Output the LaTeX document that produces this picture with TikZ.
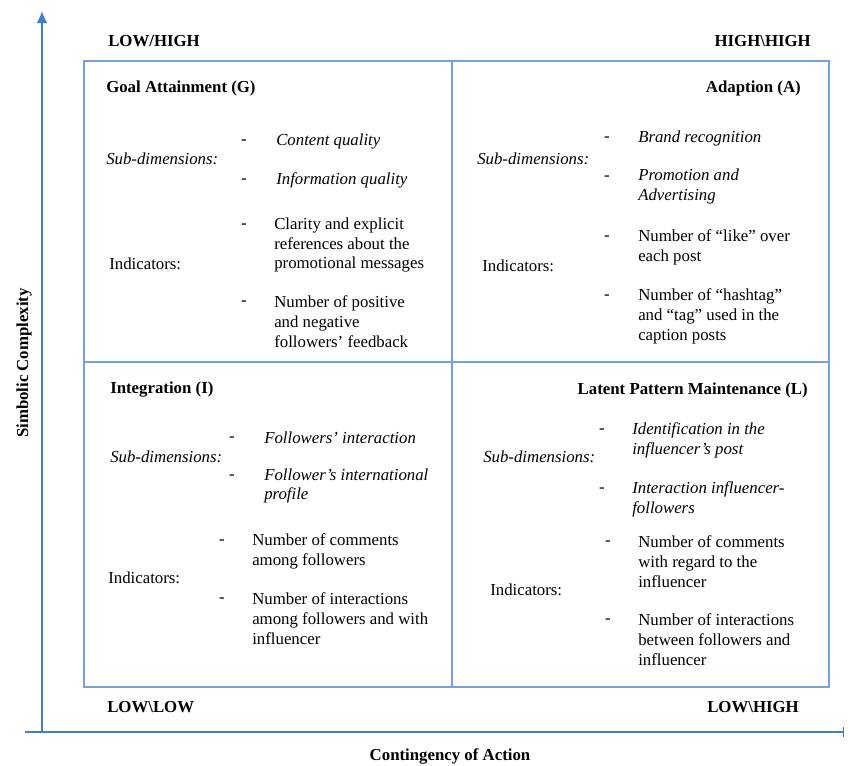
\documentclass[tikz,border=0pt]{standalone}
\usepackage{fontspec}
\setmainfont{Liberation Serif}
\usepackage{tikz}
\usetikzlibrary{arrows.meta}
\usepackage{xcolor}
\definecolor{axisblue}{RGB}{68,126,200}
\definecolor{gridblue}{RGB}{116,162,218}

\begin{document}
\begin{tikzpicture}[
    x=0.75pt, y=-0.75pt,
    font=\fontsize{12.6}{14.9}\selectfont,
    axis/.style={draw=axisblue, line width=1.1pt},
    frame/.style={draw=gridblue, line width=1pt},
    corner/.style={font=\fontsize{12.6}{14.9}\selectfont\bfseries, inner sep=0pt},
    quadtitle/.style={font=\fontsize{12.6}{14.9}\selectfont\bfseries, inner sep=0pt},
    txt/.style={align=left, anchor=west, inner sep=0pt},
    subtxt/.style={txt, font=\fontsize{12.6}{14.9}\selectfont\itshape},
    hyph/.style={inner sep=0pt, execute at begin node=\strut},
]
\useasboundingbox (0,0) rectangle (854,765);
% axes
\coordinate (origin) at (42,732);
\coordinate (ytip) at (42,11);
\coordinate (xstart) at (25,732);
\coordinate (xend) at (844,732);
\draw[axis, -{Latex[length=9pt,width=8pt]}] (origin) -- (ytip);
\draw[axis, -{Bar[width=7pt]}] (xstart) -- (xend);
\node[corner, rotate=90] (ylab) at (24,363) {Simbolic Complexity};
\node[corner] (xlab) at (450,756) {Contingency of Action};
% frame
\draw[frame] (84,61) rectangle (829,687);
\draw[frame] (452,61) -- (452,687);
\draw[frame] (84,362) -- (829,362);
% corners
\node[corner, anchor=west] (lh) at (108,41) {LOW/HIGH};
\node[corner, anchor=east] (hh) at (811,41) {HIGH\textbackslash HIGH};
\node[corner, anchor=west] (ll) at (107,707) {LOW\textbackslash LOW};
\node[corner, anchor=east] (lhb) at (799,707) {LOW\textbackslash HIGH};

% Goal Attainment (G)
\node[quadtitle, anchor=west] (G) at (106,88) {Goal Attainment (G)};
\node[subtxt] (Gsub) at (106,159) {Sub-dimensions:};
\node[hyph] (Gd1) at (244,141) {-};
\node[hyph] (Gd2) at (244,180) {-};
\node[hyph] (Gd3) at (244,225) {-};
\node[hyph] (Gd4) at (244,302) {-};
\node[subtxt] (Gs1) at (276,141) {Content quality};
\node[subtxt] (Gs2) at (276,180) {Information quality};
\node[txt] (Gind) at (109,264) {Indicators:};
\node[txt] (Gi1) at (274,245) {Clarity and explicit\\references about the\\promotional messages};
\node[txt] (Gi2) at (274,322) {Number of positive\\and negative\\followers’ feedback};

% Adaption (A)
\node[quadtitle, anchor=east] (A) at (801,88) {Adaption (A)};
\node[subtxt] (Asub) at (477,159) {Sub-dimensions:};
\node[hyph] (Ad1) at (607,138) {-};
\node[hyph] (Ad2) at (607,177) {-};
\node[hyph] (Ad3) at (607,237) {-};
\node[hyph] (Ad4) at (607,296) {-};
\node[subtxt] (As1) at (638,138) {Brand recognition};
\node[subtxt] (As2) at (638,186.5) {Promotion and\\Advertising};
\node[txt] (Aind) at (482,266) {Indicators:};
\node[txt] (Ai1) at (638,247) {Number of “like” over\\each post};
\node[txt] (Ai2) at (638,316) {Number of “hashtag”\\and “tag” used in the\\caption posts};

% Integration (I)
\node[quadtitle, anchor=west] (I) at (110,390) {Integration (I)};
\node[subtxt] (Isub) at (110,457) {Sub-dimensions:};
\node[hyph] (Id1) at (232,438) {-};
\node[hyph] (Id2) at (232,476) {-};
\node[hyph] (Id3) at (222,541) {-};
\node[hyph] (Id4) at (222,599) {-};
\node[subtxt] (Is1) at (264,438) {Followers’ interaction};
\node[subtxt] (Is2) at (264,486) {Follower’s international\\profile};
\node[txt] (Iind) at (108,578) {Indicators:};
\node[txt] (Ii1) at (252,551.5) {Number of comments\\among followers};
\node[txt] (Ii2) at (252,619) {Number of interactions\\among followers and with\\influencer};

% Latent Pattern Maintenance (L)
\node[quadtitle, anchor=east] (L) at (808,390) {Latent Pattern Maintenance (L)};
\node[subtxt] (Lsub) at (483,457) {Sub-dimensions:};
\node[hyph] (Ld1) at (602,430) {-};
\node[hyph] (Ld2) at (602,489) {-};
\node[hyph] (Ld3) at (608,542) {-};
\node[hyph] (Ld4) at (608,620) {-};
\node[subtxt] (Ls1) at (632,440) {Identification in the\\influencer’s post};
\node[subtxt] (Ls2) at (632,499) {Interaction influencer-\\followers};
\node[txt] (Lind) at (490,590) {Indicators:};
\node[txt] (Li1) at (638,562) {Number of comments\\with regard to the\\influencer};
\node[txt] (Li2) at (638,640) {Number of interactions\\between followers and\\influencer};
\end{tikzpicture}
\end{document}
